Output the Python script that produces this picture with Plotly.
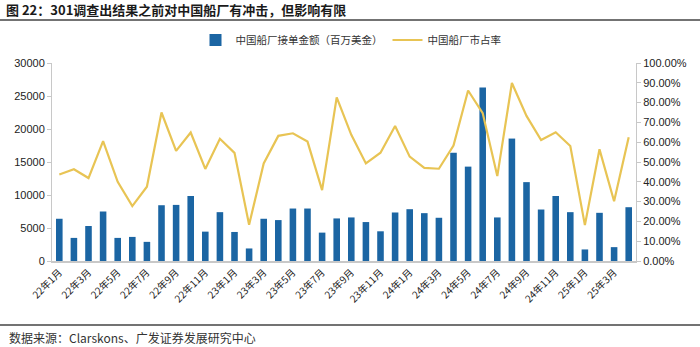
import plotly.graph_objects as go

months = []
for y, n in [(22, 12), (23, 12), (24, 12), (25, 4)]:
    for m in range(1, n + 1):
        months.append(f"{y}年{m}月")

order_amount = [6400, 3500, 5300, 7500, 3500, 3650, 2900, 8450, 8500, 9850, 4450, 7400,
                4400, 1900, 6400, 6200, 7950, 7950, 4300, 6450, 6600, 5900, 4500, 7350,
                7850, 7250, 6550, 16400, 14300, 26300, 6600, 18550, 11950, 7800, 9850, 7400,
                1750, 7300, 2100, 8150]

market_share = [0.437, 0.463, 0.419, 0.605, 0.400, 0.277, 0.375, 0.750, 0.556, 0.649, 0.465, 0.617,
                0.546, 0.183, 0.493, 0.632, 0.645, 0.603, 0.358, 0.826, 0.637, 0.493, 0.547, 0.682,
                0.527, 0.470, 0.466, 0.583, 0.861, 0.747, 0.429, 0.899, 0.733, 0.611, 0.650, 0.581,
                0.181, 0.564, 0.302, 0.625]

tick_labels = months[::2]

title_text = "图 22：301调查出结果之前对中国船厂有冲击，但影响有限"
source_text = "数据来源：Clarskons、广发证券发展研究中心"

CJK = "Noto Sans CJK SC"
NUM = "Liberation Sans, Arial, sans-serif"

W, H = 700, 347
L, R, T, B = 52, 636, 63, 261


def fx(p):
    return p / W


def fy(p):
    return 1 - p / H


fig = go.Figure()
fig.add_trace(go.Bar(
    x=months, y=order_amount, name="中国船厂接单金额（百万美金）",
    marker=dict(color="#1B65A3", line=dict(width=0)), yaxis="y"))
fig.add_trace(go.Scatter(
    x=months, y=market_share, name="中国船厂市占率", mode="lines",
    line=dict(color="#E8C454", width=2.2), yaxis="y2"))

fig.update_layout(
    width=W, height=H,
    margin=dict(l=0, r=0, t=0, b=0, autoexpand=False),
    paper_bgcolor="white", plot_bgcolor="white",
    bargap=0.55,
    showlegend=True,
    legend=dict(orientation="h", x=fx(351), xanchor="center",
                y=fy(40), yanchor="middle",
                font=dict(family=CJK, size=10.5, color="#333"),
                bgcolor="rgba(0,0,0,0)"),
    xaxis=dict(domain=[fx(L), fx(R)], type="category", tickmode="array",
               tickvals=tick_labels, ticktext=tick_labels,
               tickangle=-45, tickfont=dict(family=CJK, size=10, color="#222"),
               showline=True, linecolor="#C8C8C8", linewidth=1.5, ticks="",
               showgrid=False, zeroline=False, automargin=False),
    yaxis=dict(domain=[fy(B), fy(T)], range=[0, 30000], dtick=5000, tickformat="d",
               tickfont=dict(family=NUM, size=11, color="#222"),
               showline=True, linecolor="#C8C8C8", linewidth=1, ticks="outside",
               ticklen=4, tickcolor="#C8C8C8", showgrid=False, zeroline=False,
               automargin=False),
    yaxis2=dict(range=[0, 1], dtick=0.1, tickformat=".2%", overlaying="y", side="right",
                anchor="x",
                tickfont=dict(family=NUM, size=11, color="#222"),
                showline=True, linecolor="#C8C8C8", linewidth=1, ticks="outside",
                ticklen=4, tickcolor="#C8C8C8", showgrid=False, zeroline=False,
                automargin=False),
    annotations=[
        dict(text="<b>" + title_text + "</b>", xref="paper", yref="paper",
             x=fx(4), y=fy(10), xanchor="left", yanchor="middle", showarrow=False,
             font=dict(family=CJK, size=13, color="#1a1a1a")),
        dict(text=source_text, xref="paper", yref="paper",
             x=fx(7), y=fy(337), xanchor="left", yanchor="middle", showarrow=False,
             font=dict(family=CJK, size=12, color="#333")),
    ],
    shapes=[
        dict(type="line", xref="paper", yref="paper", x0=0, x1=1,
             y0=fy(20), y1=fy(20), line=dict(color="#444444", width=1.5)),
        dict(type="line", xref="paper", yref="paper", x0=0, x1=1,
             y0=fy(325), y1=fy(325), line=dict(color="#444444", width=1.5)),
    ],
)

fig.write_html("out.html")
